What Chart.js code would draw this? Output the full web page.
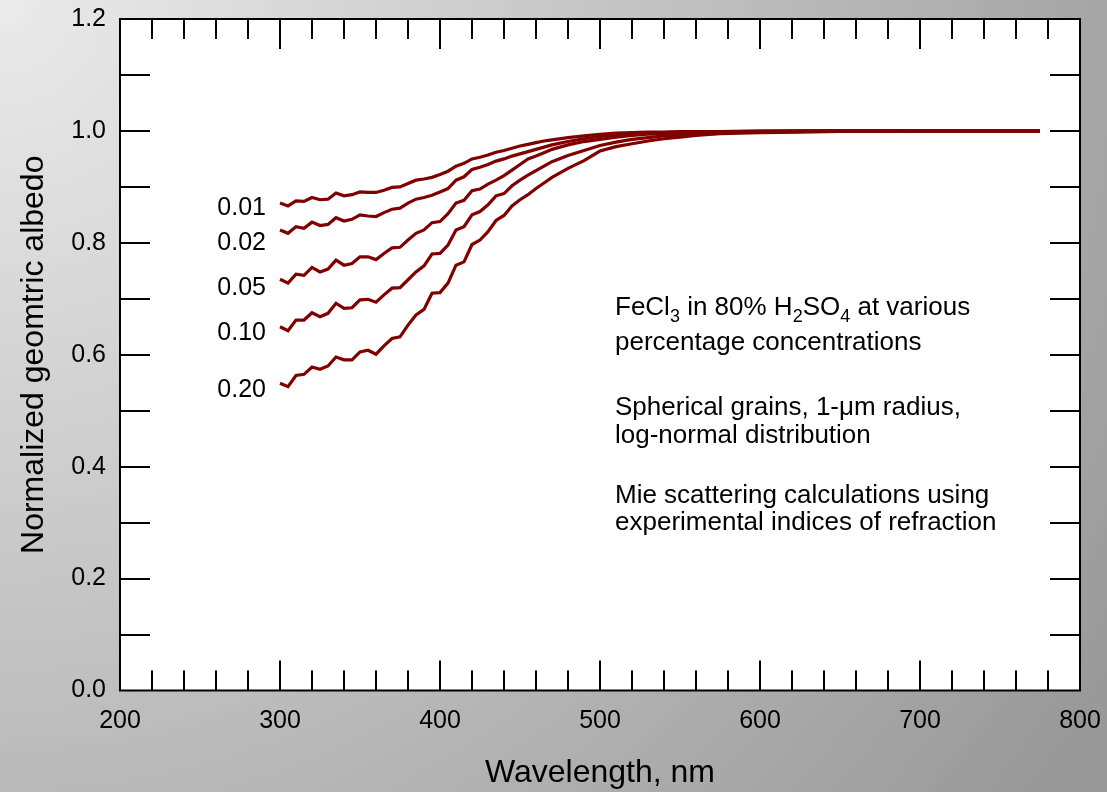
<!DOCTYPE html>
<html>
<head>
<meta charset="utf-8">
<script src="https://cdn.jsdelivr.net/npm/chart.js@4.4.1/dist/chart.umd.min.js"></script>
<style>
  html, body { margin:0; padding:0; }
  body { width:1107px; height:792px; overflow:hidden;
    background: radial-gradient(circle at 0 0, #ebebeb 0px, #999999 1300px); }
  canvas { display:block; }
</style>
</head>
<body>
<canvas id="c" width="1107" height="792"></canvas>
<script>
// ---- data ----
const wavelengths = [300,305,310,315,320,325,330,335,340,345,350,355,360,365,370,375,380,385,390,395,400,405,410,415,420,425,430,435,440,445,450,455,460,465,470,480,490,500,510,520,530,540,550,560,575,600,625,650,700,775];
const concentrations = ['0.01','0.02','0.05','0.10','0.20'];
const albedo001 = [.871,.866,.875,.874,.881,.877,.878,.889,.884,.886,.891,.890,.890,.894,.899,.900,.906,.912,.914,.917,.922,.928,.937,.942,.950,.953,.957,.962,.965,.969,.973,.976,.979,.982,.984,.988,.991,.994,.996,.997,.998,.998,.999,.999,.999,1.0,1.0,1.0,1.0,1.0];
const albedo002 = [.823,.817,.829,.826,.837,.831,.833,.845,.839,.842,.850,.848,.847,.854,.860,.862,.871,.878,.881,.885,.891,.897,.912,.918,.931,.935,.940,.946,.950,.955,.959,.963,.967,.971,.975,.981,.986,.990,.993,.995,.996,.997,.998,.998,.999,.999,1.0,1.0,1.0,1.0];
const albedo005 = [.735,.728,.744,.742,.756,.748,.753,.769,.760,.763,.775,.775,.770,.781,.791,.792,.805,.817,.823,.836,.838,.852,.871,.876,.893,.896,.905,.912,.920,.930,.940,.950,.955,.961,.967,.975,.981,.985,.989,.992,.994,.995,.996,.997,.998,.999,.999,1.0,1.0,1.0];
const albedo010 = [.650,.643,.662,.662,.675,.668,.674,.692,.683,.684,.698,.699,.694,.707,.719,.720,.734,.748,.759,.780,.781,.796,.823,.829,.850,.856,.868,.884,.888,.902,.912,.921,.929,.937,.945,.956,.965,.974,.980,.985,.988,.991,.993,.995,.997,.998,.999,.999,1.0,1.0];
const albedo020 = [.549,.543,.563,.565,.578,.574,.580,.596,.591,.591,.605,.608,.601,.616,.629,.632,.653,.671,.681,.710,.711,.728,.760,.766,.797,.805,.820,.840,.849,.866,.877,.886,.897,.907,.917,.933,.947,.964,.972,.977,.982,.986,.989,.992,.995,.997,.998,.999,1.0,1.0];
const seriesValues = [albedo001, albedo002, albedo005, albedo010, albedo020];
const xTickLabels = ['200','300','400','500','600','700','800'];
const yTickLabels = ['0.0','0.2','0.4','0.6','0.8','1.0','1.2'];
const noteLines = [
  [['FeCl'],['3','sub'],[' in 80% H'],['2','sub'],['SO'],['4','sub'],[' at various']],
  [['percentage concentrations']],
  [['Spherical grains, 1-\u03bcm radius,']],
  [['log-normal distribution']],
  [['Mie scattering calculations using']],
  [['experimental indices of refraction']]
];

// ---- styles ----
const FONT = '"Liberation Sans", Arial, sans-serif';
const LINE_COLOR = '#800000';
const labelOffsets = [5, 13, 9, 6, 7];
const noteBaselines = [315, 350, 415, 443, 503, 530];

const datasets = seriesValues.map((vals, i) => ({
  label: concentrations[i],
  data: wavelengths.map((w, j) => ({x: w, y: vals[j]})),
  borderColor: LINE_COLOR,
  borderWidth: 3.2,
  pointRadius: 0,
  tension: 0,
  fill: false
}));

const decor = {
  id: 'decor',
  beforeDraw(chart) {
    const {ctx, chartArea: a} = chart;
    ctx.save();
    ctx.fillStyle = '#ffffff';
    ctx.fillRect(a.left, a.top, a.right - a.left, a.bottom - a.top);
    ctx.restore();
  },
  afterDatasetsDraw(chart) {
    const {ctx, chartArea: a, scales: {x, y}} = chart;
    ctx.save();
    ctx.strokeStyle = '#000';
    ctx.lineWidth = 2;
    ctx.lineCap = 'butt';
    // y ticks (inward, both sides)
    y.ticks.forEach(t => {
      const py = Math.round(y.getPixelForValue(t.value));
      if (py <= a.top + 1 || py >= a.bottom - 1) return;
      ctx.beginPath();
      ctx.moveTo(a.left, py); ctx.lineTo(a.left + 30, py);
      ctx.moveTo(a.right, py); ctx.lineTo(a.right - 30, py);
      ctx.stroke();
    });
    // x ticks (inward, top & bottom)
    x.ticks.forEach(t => {
      const px = Math.round(x.getPixelForValue(t.value));
      if (px <= a.left + 1 || px >= a.right - 1) return;
      const len = (Math.round(t.value) % 100 === 0) ? 30 : 20;
      ctx.beginPath();
      ctx.moveTo(px, a.bottom); ctx.lineTo(px, a.bottom - len);
      ctx.moveTo(px, a.top); ctx.lineTo(px, a.top + len);
      ctx.stroke();
    });
    // frame
    ctx.strokeRect(a.left, a.top, a.right - a.left, a.bottom - a.top);

    // curve labels
    ctx.fillStyle = '#000';
    ctx.font = '25px ' + FONT;
    ctx.textAlign = 'right';
    ctx.textBaseline = 'middle';
    seriesValues.forEach((vals, i) => {
      const px = x.getPixelForValue(wavelengths[0]) - 14;
      const py = y.getPixelForValue(vals[0]) + labelOffsets[i];
      ctx.fillText(concentrations[i], px, py);
    });

    // note text
    ctx.textAlign = 'left';
    ctx.textBaseline = 'alphabetic';
    noteLines.forEach((segs, li) => {
      let cx = 615;
      const by = noteBaselines[li];
      segs.forEach(([txt, kind]) => {
        if (kind === 'sub') {
          ctx.font = '18px ' + FONT;
          ctx.fillText(txt, cx, by + 7);
        } else {
          ctx.font = '26px ' + FONT;
          ctx.fillText(txt, cx, by);
        }
        cx += ctx.measureText(txt).width;
      });
    });
    ctx.restore();
  }
};

new Chart(document.getElementById('c'), {
  type: 'line',
  data: { datasets },
  options: {
    responsive: false,
    devicePixelRatio: 1,
    animation: false,
    layout: { padding: { top: 19, right: 27, left: 0, bottom: 0 } },
    plugins: { legend: { display: false }, tooltip: { enabled: false } },
    scales: {
      x: {
        type: 'linear', min: 200, max: 800,
        grid: { display: false, drawTicks: false },
        border: { display: false },
        ticks: {
          stepSize: 20, autoSkip: false, maxRotation: 0, padding: 16,
          color: '#000', font: { family: FONT, size: 25 },
          callback: (v) => { const s = String(Math.round(v)); return xTickLabels.includes(s) ? s : ''; }
        },
        title: { display: true, text: 'Wavelength, nm', color: '#000',
          font: { family: FONT, size: 32 }, padding: { top: 0, bottom: 0 } },
        afterFit: (s) => { s.height = 101.5; s.paddingLeft = 0; s.paddingRight = 0; }
      },
      y: {
        type: 'linear', min: 0, max: 1.2,
        grid: { display: false, drawTicks: false },
        border: { display: false },
        ticks: {
          stepSize: 0.1, autoSkip: false, padding: 14,
          color: '#000', font: { family: FONT, size: 25 },
          callback: (v) => { const s = (Math.round(v * 10) / 10).toFixed(1); return yTickLabels.includes(s) ? s : ''; }
        },
        title: { display: true, text: 'Normalized geomtric albedo', color: '#000',
          font: { family: FONT, size: 32 }, padding: { top: 15, bottom: 15 } },
        afterFit: (s) => { s.width = 120; s.paddingTop = 0; s.paddingBottom = 0; }
      }
    }
  },
  plugins: [decor]
});
</script>
</body>
</html>
